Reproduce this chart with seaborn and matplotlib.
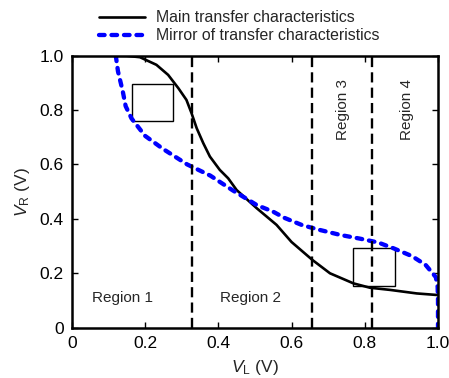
import matplotlib
matplotlib.use("Agg")
import matplotlib.pyplot as plt
from matplotlib.patches import Rectangle
import seaborn as sns
import pandas as pd

# Main transfer characteristic V_R(V_L)
vl_main = [0.000, 0.100, 0.150, 0.186, 0.231, 0.263, 0.291, 0.313, 0.327, 0.341,
           0.359, 0.377, 0.404, 0.427, 0.450, 0.505, 0.559, 0.600, 0.657, 0.705,
           0.769, 0.814, 0.869, 0.942, 1.000]
vr_main = [1.000, 1.000, 0.999, 0.994, 0.966, 0.929, 0.880, 0.837, 0.788, 0.733,
           0.678, 0.629, 0.580, 0.549, 0.506, 0.439, 0.378, 0.315, 0.249, 0.200,
           0.163, 0.147, 0.139, 0.126, 0.120]

# Region boundaries (V_L)
boundaries = [0.328, 0.657, 0.82]

# Region labels: text, x, y, rotation
region_text = ["Region 1", "Region 2", "Region 3", "Region 4"]
region_x = [0.137, 0.487, 0.74, 0.914]
region_y = [0.11, 0.11, 0.80, 0.80]
region_rot = [0, 0, 90, 90]

# Highlight boxes: (x0, y0, width, height)
box_x = [0.163, 0.767]
box_y = [0.759, 0.153]
box_w = [0.114, 0.116]
box_h = [0.138, 0.139]

ticks = [0, 0.2, 0.4, 0.6, 0.8, 1.0]
tick_labels = ["0", "0.2", "0.4", "0.6", "0.8", "1.0"]

sns.set_style("ticks")
plt.rcParams["font.family"] = ["Liberation Sans", "DejaVu Sans"]
plt.rcParams["mathtext.fontset"] = "custom"
plt.rcParams["mathtext.rm"] = "Liberation Sans"
plt.rcParams["mathtext.it"] = "Liberation Sans:italic"

main_df = pd.DataFrame({"VL": vl_main, "VR": vr_main})
# Mirror across V_R = V_L: swap the two voltages
mirror_df = pd.DataFrame({"VL": vr_main[::-1], "VR": vl_main[::-1]})

fig = plt.figure(figsize=(4.49, 3.78), dpi=100)
ax = fig.add_axes([0.160, 0.133, 0.8155, 0.720])

sns.lineplot(data=main_df, x="VL", y="VR", ax=ax, color="black", lw=1.9,
             sort=False, estimator=None, label="Main transfer characteristics")
sns.lineplot(data=mirror_df, x="VL", y="VR", ax=ax, color="#0000ff", lw=3.1,
             sort=False, estimator=None, linestyle=(0, (1.3, 1.6)),
             dash_capstyle="round",
             label="Mirror of transfer characteristics")

for b in boundaries:
    ax.axvline(b, color="black", lw=1.7, linestyle=(0, (4.3, 2.2)))

for t, x, y, r in zip(region_text, region_x, region_y, region_rot):
    ax.text(x, y, t, ha="center", va="center", rotation=r, fontsize=11)

for x0, y0, w, h in zip(box_x, box_y, box_w, box_h):
    ax.add_patch(Rectangle((x0, y0), w, h, fill=False, ec="black", lw=1.0))

ax.set_xlim(0, 1.0)
ax.set_ylim(0, 1.0)
ax.set_xticks(ticks)
ax.set_xticklabels(tick_labels)
ax.set_yticks(ticks)
ax.set_yticklabels(tick_labels)
ax.tick_params(direction="in", length=4, width=1, top=True, right=True,
               labelsize=12.5, pad=6, colors="black")
for s in ax.spines.values():
    s.set_linewidth(1.8)
    s.set_color("black")

ax.set_xlabel(r"$V_{\mathrm{L}}$ (V)", fontsize=12.5, labelpad=5)
ax.set_ylabel(r"$V_{\mathrm{R}}$ (V)", fontsize=12.5, labelpad=5)

handles, labels = ax.get_legend_handles_labels()
ax.legend_.remove()
leg = fig.legend(handles, labels, loc="upper left", bbox_to_anchor=(0.20, 0.998),
                 frameon=False, fontsize=11.4, handlelength=2.9, labelspacing=0.2,
                 handletextpad=0.7, borderaxespad=0.2)
leg.legend_handles[1].set_dash_capstyle("round")

fig.savefig("out.png", dpi=100)
